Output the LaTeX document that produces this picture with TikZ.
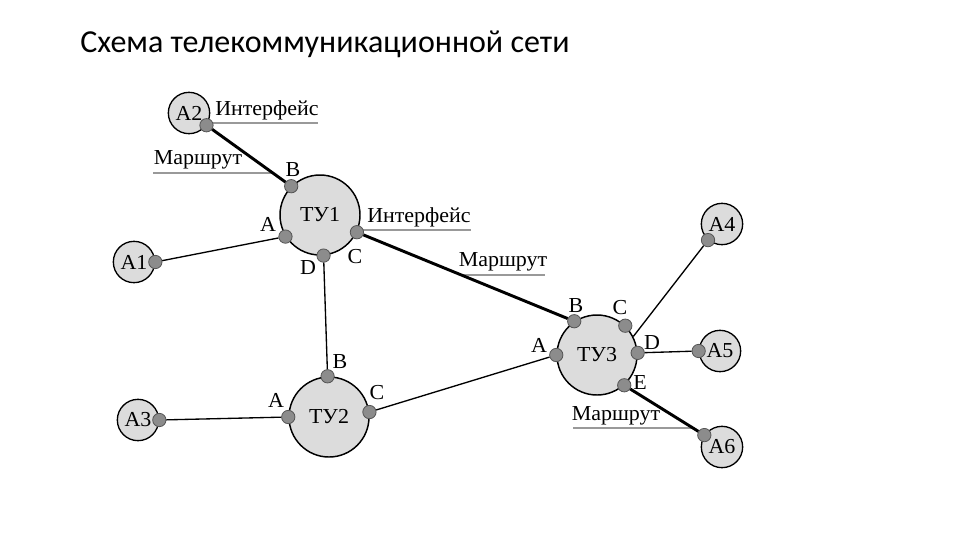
\documentclass[tikz,border=0pt]{standalone}
\usepackage{fontspec}
\setmainfont{Liberation Serif}[FakeStretch=1.03]
\newfontfamily\titlefont{Carlito}
\definecolor{uzelfill}{HTML}{DCDCDC}
\definecolor{portfill}{HTML}{8C8C8C}
\definecolor{portline}{HTML}{555555}
\definecolor{ulinecol}{HTML}{999999}

\begin{document}
\begin{tikzpicture}[x=0.75pt, y=-0.75pt,
  uzel/.style={circle, draw, line width=1.1pt, fill=uzelfill, minimum size=60pt, inner sep=0pt},
  abon/.style={circle, draw, line width=1pt, fill=uzelfill, minimum size=31pt, inner sep=0pt},
  port/.style={circle, draw=portline, line width=0.6pt, fill=portfill, minimum size=10pt, inner sep=0pt},
  link/.style={line width=1pt},
  route/.style={line width=2.2pt},
  uline/.style={draw=ulinecol, line width=0.8pt}]
  \useasboundingbox (0,0) rectangle (960,540);
  \fontsize{16}{18}\selectfont

  % заголовок
  \node[anchor=base west, inner sep=0pt, font=\titlefont\fontsize{24}{27}\selectfont]
    (title) at (80,52) {Схема телекоммуникационной сети};

  % узлы
  \node[uzel] (ty1) at (320,215) {ТУ1};
  \node[uzel] (ty2) at (329,417) {ТУ2};
  \node[uzel] (ty3) at (597,355) {ТУ3};

  % абоненты
  \node[abon] (a1) at (134,262) {A1};
  \node[abon] (a2) at (189,113) {A2};
  \node[abon] (a3) at (138,420) {A3};
  \node[abon] (a4) at (722,224) {A4};
  \node[abon] (a5) at (720,351) {A5};
  \node[abon] (a6) at (722,447) {A6};

  % подписи с чертой
  \node (if1) at (267,110) {Интерфейс};
  \draw[uline] (210,123) -- (318,123);
  \node (mr1) at (198,160) {Маршрут};
  \draw[uline] (153,173) -- (272,173);
  \node (if2) at (419,217) {Интерфейс};
  \draw[uline] (363,230) -- (471,230);
  \node (mr2) at (503,262) {Маршрут};
  \draw[uline] (460,275) -- (545,275);
  \node (mr3) at (616,416) {Маршрут};
  \draw[uline] (573,428) -- (693,428);

  % порты
  \node[port] (a1p) at (a1.0) {};
  \node[port] (a2p) at (a2.325) {};
  \node[port] (a3p) at (a3.0) {};
  \node[port] (a4p) at (a4.229) {};
  \node[port] (a5p) at (a5.180) {};
  \node[port] (a6p) at (a6.146) {};
  \node[port] (ty1a) at (ty1.212) {};
  \node[port] (ty1b) at (ty1.135) {};
  \node[port] (ty1c) at (ty1.335) {};
  \node[port] (ty1d) at (ty1.275) {};
  \node[port] (ty2a) at (ty2.180) {};
  \node[port] (ty2b) at (ty2.92) {};
  \node[port] (ty2c) at (ty2.7) {};
  \node[port] (ty3a) at (ty3.180) {};
  \node[port] (ty3b) at (ty3.124) {};
  \node[port] (ty3c) at (ty3.46) {};
  \node[port] (ty3d) at (ty3.3) {};
  \node[port] (ty3e) at (ty3.312) {};
  \coordinate (ty3x) at (ty3.27);

  % метки портов
  \node at (293,170) {B};
  \node at (268,224) {A};
  \node at (308,268) {D};
  \node at (355,257) {C};
  \node at (340,362) {B};
  \node at (276,400) {A};
  \node at (377,393) {C};
  \node at (576,306) {B};
  \node at (620,308) {C};
  \node at (652,343) {D};
  \node at (640,383) {E};
  \node at (539,345) {A};

  % связи
  \draw[route] (a2p) -- (ty1b);
  \draw[link] (a1p) -- (ty1a);
  \draw[link] (ty1d) -- (ty2b);
  \draw[route] (ty1c) -- (ty3b);
  \draw[link] (a3p) -- (ty2a);
  \draw[link] (ty2c) -- (ty3a);
  \draw[link] (a4p) -- (ty3x);
  \draw[link] (ty3d) -- (a5p);
  \draw[route] (ty3e) -- (a6p);
\end{tikzpicture}
\end{document}
